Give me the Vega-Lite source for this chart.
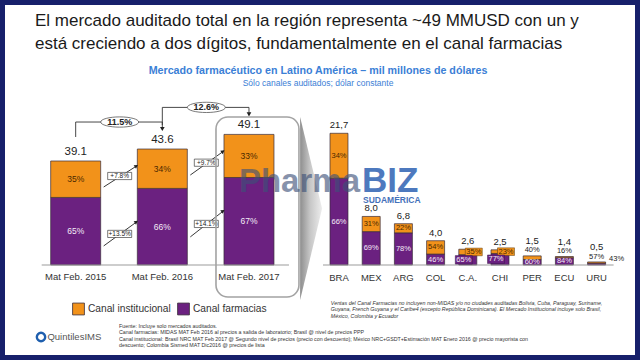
{
  "$schema": "https://vega.github.io/schema/vega-lite/v6.json",
  "background": "#17206b",
  "padding": 5,
  "title": {
    "text": ["El mercado auditado total en la región representa ~49 MMUSD con un y", "está creciendo a dos dígitos, fundamentalmente en el canal farmacias"],
    "anchor": "start", "dx": 30, "offset": -48, "fontSize": 17, "fontWeight": "normal",
    "color": "#1a1a1a", "font": "Liberation Sans", "lineHeight": 23, "baseline": "top"
  },
  "datasets": {
    "izq": [
      {"periodo": 2015, "canal": "Canal farmacias", "valor": 25.4, "pct": "65%"},
      {"periodo": 2015, "canal": "Canal institucional", "valor": 13.7, "pct": "35%"},
      {"periodo": 2016, "canal": "Canal farmacias", "valor": 28.8, "pct": "66%"},
      {"periodo": 2016, "canal": "Canal institucional", "valor": 14.8, "pct": "34%"},
      {"periodo": 2017, "canal": "Canal farmacias", "valor": 32.9, "pct": "67%"},
      {"periodo": 2017, "canal": "Canal institucional", "valor": 16.2, "pct": "33%"}
    ],
    "izqTot": [
      {"periodo": 2015, "nombre": "Mat Feb. 2015", "total": 39.1},
      {"periodo": 2016, "nombre": "Mat Feb. 2016", "total": 43.6},
      {"periodo": 2017, "nombre": "Mat Feb. 2017", "total": 49.1}
    ],
    "crecTotal": [
      {"desde": 2015, "hasta": 2016, "crec": "11.5%", "tot_desde": 39.1, "tot_hasta": 43.6},
      {"desde": 2016, "hasta": 2017, "crec": "12.6%", "tot_desde": 43.6, "tot_hasta": 49.1}
    ],
    "crecCanal": [
      {"desde": 2015, "hasta": 2016, "canal": "Canal institucional", "crec": "+7.8%", "base_desde": 39.1, "base_hasta": 43.6},
      {"desde": 2015, "hasta": 2016, "canal": "Canal farmacias", "crec": "+13.5%", "base_desde": 25.4, "base_hasta": 28.8},
      {"desde": 2016, "hasta": 2017, "canal": "Canal institucional", "crec": "+9.7%", "base_desde": 43.6, "base_hasta": 49.1},
      {"desde": 2016, "hasta": 2017, "canal": "Canal farmacias", "crec": "+14.1%", "base_desde": 28.8, "base_hasta": 32.9}
    ],
    "der": [
      {"pais": "BRA", "canal": "Canal farmacias", "valor": 14.3, "pct": "66%"},
      {"pais": "BRA", "canal": "Canal institucional", "valor": 7.4, "pct": "34%"},
      {"pais": "MEX", "canal": "Canal farmacias", "valor": 5.5, "pct": "69%"},
      {"pais": "MEX", "canal": "Canal institucional", "valor": 2.5, "pct": "31%"},
      {"pais": "ARG", "canal": "Canal farmacias", "valor": 5.3, "pct": "78%"},
      {"pais": "ARG", "canal": "Canal institucional", "valor": 1.5, "pct": "22%"},
      {"pais": "COL", "canal": "Canal farmacias", "valor": 1.8, "pct": "46%"},
      {"pais": "COL", "canal": "Canal institucional", "valor": 2.2, "pct": "54%"},
      {"pais": "C.A.", "canal": "Canal farmacias", "valor": 1.7, "pct": "65%"},
      {"pais": "C.A.", "canal": "Canal institucional", "valor": 0.9, "pct": "35%"},
      {"pais": "CHI", "canal": "Canal farmacias", "valor": 1.9, "pct": "77%"},
      {"pais": "CHI", "canal": "Canal institucional", "valor": 0.6, "pct": "23%"},
      {"pais": "PER", "canal": "Canal farmacias", "valor": 0.9, "pct": "60%"},
      {"pais": "PER", "canal": "Canal institucional", "valor": 0.6, "pct": "40%"},
      {"pais": "ECU", "canal": "Canal farmacias", "valor": 1.2, "pct": "84%"},
      {"pais": "ECU", "canal": "Canal institucional", "valor": 0.2, "pct": "16%"},
      {"pais": "URU", "canal": "Canal farmacias", "valor": 0.3, "pct": "57%"},
      {"pais": "URU", "canal": "Canal institucional", "valor": 0.2, "pct": "43%"}
    ],
    "derTot": [
      {"pais": "BRA", "total": 21.7, "etiqueta": "21,7"},
      {"pais": "MEX", "total": 8.0, "etiqueta": "8,0"},
      {"pais": "ARG", "total": 6.8, "etiqueta": "6,8"},
      {"pais": "COL", "total": 4.0, "etiqueta": "4,0"},
      {"pais": "C.A.", "total": 2.6, "etiqueta": "2,6"},
      {"pais": "CHI", "total": 2.5, "etiqueta": "2,5"},
      {"pais": "PER", "total": 1.5, "etiqueta": "1,5"},
      {"pais": "ECU", "total": 1.4, "etiqueta": "1,4"},
      {"pais": "URU", "total": 0.5, "etiqueta": "0,5"}
    ]
  },
  "vconcat": [
    {
      "width": 630,
      "height": 350,
      "title": {
        "text": "Mercado farmacéutico en Latino América – mil millones de dólares",
        "subtitle": "Sólo canales auditados; dólar constante",
        "anchor": "middle", "dx": -2, "offset": -83, "baseline": "top",
        "color": "#3b80d6", "subtitleColor": "#3b80d6",
        "fontSize": 10.7, "fontWeight": "bold", "font": "Liberation Sans",
        "subtitleFontSize": 8.5, "subtitleFont": "Liberation Sans", "subtitlePadding": 2
      },
      "resolve": {"scale": {"x": "independent", "y": "independent"}},
      "layer": [
        {
          "layer": [
            {
              "data": {"values": [{}]},
              "mark": {"type": "point", "shape": "M-0.12,-1L0.12,0L-0.12,1Z", "filled": true, "opacity": 1, "size": 33489,
                "fill": {"gradient": "linear", "x1": 0, "y1": 0, "x2": 1, "y2": 0, "stops": [{"offset": 0, "color": "#8e8e8e"}, {"offset": 0.45, "color": "#c6c6c6"}, {"offset": 1, "color": "#ededed"}]}},
              "encoding": {
                "x": {"datum": 2017.717, "type": "quantitative", "scale": {"domain": [2014.2421, 2021.3971], "nice": false, "zero": false}, "axis": null},
                "y": {"datum": 21.24, "type": "quantitative", "scale": {"domain": [-33.835, 97.744], "nice": false, "zero": false}, "axis": null}
              }
            },
            {
              "data": {"name": "izq"},
              "mark": {"type": "bar", "width": 50, "stroke": "#3a2d3a", "strokeWidth": 0.7},
              "encoding": {
                "x": {"field": "periodo", "type": "quantitative", "axis": null},
                "y": {"field": "valor", "type": "quantitative", "stack": "zero", "axis": null},
                "color": {
                  "field": "canal", "type": "nominal",
                  "scale": {"domain": ["Canal institucional", "Canal farmacias"], "range": ["#F2921A", "#6B2180"]},
                  "legend": {"orient": "none", "legendX": 67, "legendY": 297, "direction": "horizontal", "title": null,
                    "symbolType": "square", "symbolSize": 140, "labelFontSize": 10.2, "labelColor": "#333333",
                    "labelFont": "Liberation Sans", "columnPadding": 4, "symbolStrokeColor": "#444444", "symbolStrokeWidth": 0.8, "labelOffset": 3}
                },
                "order": {"field": "canal", "type": "nominal", "sort": "ascending"}
              }
            },
            {
              "data": {"name": "izqTot"},
              "mark": {"type": "rule", "color": "#9c9c9c", "strokeWidth": 1.2, "xOffset": -34, "x2Offset": 40},
              "encoding": {
                "x": {"aggregate": "min", "field": "periodo", "type": "quantitative", "axis": null},
                "x2": {"aggregate": "max", "field": "periodo"},
                "y": {"datum": 0, "type": "quantitative", "axis": null}
              }
            },
            {
              "data": {"name": "izqTot"},
              "mark": {"type": "text", "fontSize": 11.5, "color": "#222222", "baseline": "middle", "dy": -9},
              "encoding": {
                "x": {"field": "periodo", "type": "quantitative", "axis": null},
                "y": {"field": "total", "type": "quantitative", "axis": null},
                "text": {"field": "total", "type": "quantitative", "format": ".1f"}
              }
            },
            {
              "data": {"name": "izqTot"},
              "mark": {"type": "text", "fontSize": 9.5, "color": "#333333", "baseline": "middle", "dy": 12},
              "encoding": {
                "x": {"field": "periodo", "type": "quantitative", "axis": null},
                "y": {"datum": 0, "type": "quantitative", "axis": null},
                "text": {"field": "nombre", "type": "nominal"}
              }
            },
            {
              "data": {"name": "izq"},
              "transform": [
                {"stack": "valor", "groupby": ["periodo"], "sort": [{"field": "canal", "order": "ascending"}], "as": ["v0", "v1"]},
                {"fold": ["v0", "v1"], "as": ["extremo", "pos"]}
              ],
              "mark": {"type": "text", "fontSize": 8.5, "baseline": "middle"},
              "encoding": {
                "x": {"field": "periodo", "type": "quantitative", "axis": null},
                "y": {"aggregate": "mean", "field": "pos", "type": "quantitative", "axis": null},
                "detail": {"field": "canal"},
                "text": {"field": "pct", "type": "nominal"},
                "color": {"condition": {"test": "datum.canal === 'Canal farmacias'", "value": "#f4ecf7"}, "value": "#4a2800"}
              }
            },
            {
              "data": {"name": "crecTotal"},
              "mark": {"type": "rule", "color": "#333333", "strokeWidth": 0.9, "yOffset": -24, "y2Offset": -27},
              "encoding": {
                "x": {"field": "desde", "type": "quantitative", "axis": null},
                "y": {"field": "tot_desde", "type": "quantitative", "axis": null},
                "y2": {"field": "tot_hasta"}
              }
            },
            {
              "data": {"name": "crecTotal"},
              "mark": {"type": "rule", "color": "#333333", "strokeWidth": 0.9, "yOffset": -27},
              "encoding": {
                "x": {"field": "desde", "type": "quantitative", "axis": null},
                "x2": {"field": "hasta"},
                "y": {"field": "tot_hasta", "type": "quantitative", "axis": null}
              }
            },
            {
              "data": {"name": "crecTotal"},
              "mark": {"type": "rule", "color": "#333333", "strokeWidth": 0.9, "yOffset": -27, "y2Offset": -21},
              "encoding": {
                "x": {"field": "hasta", "type": "quantitative", "axis": null},
                "y": {"field": "tot_hasta", "type": "quantitative", "axis": null},
                "y2": {"field": "tot_hasta"}
              }
            },
            {
              "data": {"name": "crecTotal"},
              "mark": {"type": "point", "shape": "triangle-down", "filled": true, "size": 22, "color": "#222222", "opacity": 1, "yOffset": -20},
              "encoding": {
                "x": {"field": "hasta", "type": "quantitative", "axis": null},
                "y": {"field": "tot_hasta", "type": "quantitative", "axis": null}
              }
            },
            {
              "data": {"name": "crecTotal"},
              "mark": {"type": "point", "shape": "M-1,0A1,0.27,0,1,0,1,0A1,0.27,0,1,0,-1,0Z", "filled": true, "fill": "#ffffff", "stroke": "#555555", "strokeWidth": 0.8, "opacity": 1, "size": 1444, "xOffset": 44, "yOffset": -27},
              "encoding": {
                "x": {"field": "desde", "type": "quantitative", "axis": null},
                "y": {"field": "tot_hasta", "type": "quantitative", "axis": null}
              }
            },
            {
              "data": {"name": "crecTotal"},
              "mark": {"type": "text", "fontSize": 9, "fontWeight": "bold", "color": "#222222", "baseline": "middle", "xOffset": 44, "yOffset": -27},
              "encoding": {
                "x": {"field": "desde", "type": "quantitative", "axis": null},
                "y": {"field": "tot_hasta", "type": "quantitative", "axis": null},
                "text": {"field": "crec", "type": "nominal"}
              }
            },
            {
              "data": {"name": "crecCanal"},
              "transform": [{"filter": "datum.canal === 'Canal institucional'"}],
              "mark": {"type": "rule", "color": "#222222", "strokeWidth": 0.9, "xOffset": 28, "x2Offset": -25, "yOffset": 26, "y2Offset": 16.5},
              "encoding": {
                "x": {"field": "desde", "type": "quantitative", "axis": null},
                "x2": {"field": "hasta"},
                "y": {"field": "base_desde", "type": "quantitative", "axis": null},
                "y2": {"field": "base_hasta"}
              }
            },
            {
              "data": {"name": "crecCanal"},
              "transform": [{"filter": "datum.canal === 'Canal farmacias'"}],
              "mark": {"type": "rule", "color": "#222222", "strokeWidth": 0.9, "xOffset": 28, "x2Offset": -25, "yOffset": 48.5, "y2Offset": 33},
              "encoding": {
                "x": {"field": "desde", "type": "quantitative", "axis": null},
                "x2": {"field": "hasta"},
                "y": {"field": "base_desde", "type": "quantitative", "axis": null},
                "y2": {"field": "base_hasta"}
              }
            },
            {
              "data": {"name": "crecCanal"},
              "transform": [{"filter": "datum.canal === 'Canal institucional'"}],
              "mark": {"type": "point", "shape": "triangle-right", "angle": -35, "filled": true, "size": 18, "color": "#222222", "opacity": 1, "xOffset": -26, "yOffset": 17},
              "encoding": {
                "x": {"field": "hasta", "type": "quantitative", "axis": null},
                "y": {"field": "base_hasta", "type": "quantitative", "axis": null}
              }
            },
            {
              "data": {"name": "crecCanal"},
              "transform": [{"filter": "datum.canal === 'Canal farmacias'"}],
              "mark": {"type": "point", "shape": "triangle-right", "angle": -35, "filled": true, "size": 18, "color": "#222222", "opacity": 1, "xOffset": -26, "yOffset": 33.5},
              "encoding": {
                "x": {"field": "hasta", "type": "quantitative", "axis": null},
                "y": {"field": "base_hasta", "type": "quantitative", "axis": null}
              }
            },
            {
              "data": {"name": "crecCanal"},
              "transform": [{"filter": "datum.canal === 'Canal institucional'"}, {"fold": ["base_desde", "base_hasta"], "as": ["extremo", "nivel"]}],
              "layer": [
                {
                  "mark": {"type": "point", "shape": "M-1,-0.3H1V0.3H-1Z", "filled": true, "fill": "#ffffff", "stroke": "#222222", "strokeWidth": 0.6, "opacity": 1, "size": 576, "xOffset": 44, "yOffset": 21}
                },
                {
                  "mark": {"type": "text", "fontSize": 6.5, "color": "#222222", "baseline": "middle", "xOffset": 44, "yOffset": 21},
                  "encoding": {"text": {"field": "crec", "type": "nominal"}}
                }
              ],
              "encoding": {
                "x": {"field": "desde", "type": "quantitative", "axis": null},
                "y": {"aggregate": "mean", "field": "nivel", "type": "quantitative", "axis": null},
                "detail": {"field": "crec"}
              }
            },
            {
              "data": {"name": "crecCanal"},
              "transform": [{"filter": "datum.canal === 'Canal farmacias'"}, {"fold": ["base_desde", "base_hasta"], "as": ["extremo", "nivel"]}],
              "layer": [
                {
                  "mark": {"type": "point", "shape": "M-1,-0.3H1V0.3H-1Z", "filled": true, "fill": "#ffffff", "stroke": "#222222", "strokeWidth": 0.6, "opacity": 1, "size": 576, "xOffset": 44, "yOffset": 41}
                },
                {
                  "mark": {"type": "text", "fontSize": 6.5, "color": "#222222", "baseline": "middle", "xOffset": 44, "yOffset": 41},
                  "encoding": {"text": {"field": "crec", "type": "nominal"}}
                }
              ],
              "encoding": {
                "x": {"field": "desde", "type": "quantitative", "axis": null},
                "y": {"aggregate": "mean", "field": "nivel", "type": "quantitative", "axis": null},
                "detail": {"field": "crec"}
              }
            },
            {
              "data": {"values": [{}]},
              "mark": {"type": "point", "shape": "M-0.328,-1H0.328A0.133,0.133,0,0,1,0.461,-0.867V0.867A0.133,0.133,0,0,1,0.328,1H-0.328A0.133,0.133,0,0,1,-0.461,0.867V-0.867A0.133,0.133,0,0,1,-0.328,-1Z", "filled": false, "stroke": "#a3a3a3", "strokeWidth": 1.6, "opacity": 1, "size": 32400},
              "encoding": {
                "x": {"datum": 2017.098, "type": "quantitative", "axis": null},
                "y": {"datum": 21.8, "type": "quantitative", "axis": null}
              }
            },
            {
              "data": {"values": [{}]},
              "mark": {"type": "text", "align": "left", "baseline": "top", "fontSize": 5.3, "color": "#333333", "lineHeight": 6.4,
                "text": ["Fuente: Incluye solo mercados auditados.",
                  "Canal farmacias: MIDAS MAT Feb 2016 al precios a salida de laboratorio; Brasil @ nivel de precios PPP",
                  "Canal institucional: Brasil NRC MAT Feb 2017 @ Segundo nivel de precios (precio con descuento); México NRC+GSDT+Estimación MAT Enero 2016 @ precio mayorista con",
                  "descuento; Colombia Sismed MAT Dic2016 @ precios de lista"]},
              "encoding": {
                "x": {"datum": 2015.5, "type": "quantitative", "axis": null},
                "y": {"datum": -22.2, "type": "quantitative", "axis": null}
              }
            },
            {
              "data": {"values": [{}]},
              "mark": {"type": "text", "align": "left", "baseline": "top", "fontSize": 5.3, "fontStyle": "italic", "color": "#333333", "lineHeight": 6.4,
                "text": ["Ventas del Canal Farmacias no incluyen non-MIDAS y/o no ciudades auditadas Bolivia, Cuba, Paraguay, Suriname,",
                  "Guyana, French Guyana y el Caribe4 (excepto República Dominicana). El Mercado Institucional incluye solo Brasil,",
                  "México, Colombia y Ecuador"]},
              "encoding": {
                "x": {"datum": 2017.945, "type": "quantitative", "axis": null},
                "y": {"datum": -13.5, "type": "quantitative", "axis": null}
              }
            },
            {
              "data": {"values": [{}]},
              "mark": {"type": "point", "shape": "circle", "filled": false, "stroke": "#1f5fae", "strokeWidth": 2.4, "opacity": 1, "size": 70},
              "encoding": {
                "x": {"datum": 2014.6, "type": "quantitative", "axis": null},
                "y": {"datum": -27.07, "type": "quantitative", "axis": null}
              }
            },
            {
              "data": {"values": [{}]},
              "mark": {"type": "text", "align": "left", "baseline": "middle", "fontSize": 9.5, "color": "#555555", "text": "QuintilesIMS"},
              "encoding": {
                "x": {"datum": 2014.674, "type": "quantitative", "axis": null},
                "y": {"datum": -27.07, "type": "quantitative", "axis": null}
              }
            }
          ]
        },
        {
          "layer": [
            {
              "data": {"name": "der"},
              "mark": {"type": "bar", "stroke": "#3a2d3a", "strokeWidth": 0.7},
              "encoding": {
                "x": {"field": "pais", "type": "nominal", "sort": null,
                  "scale": {"type": "band", "domain": ["BRA", "MEX", "ARG", "COL", "C.A.", "CHI", "PER", "ECU", "URU"], "range": [308.9, 616.7], "paddingInner": 0.441, "paddingOuter": 0.5, "align": 0.5},
                  "axis": null},
                "y": {"field": "valor", "type": "quantitative", "stack": "zero", "scale": {"domain": [-14.827, 42.834], "nice": false, "zero": false}, "axis": null},
                "color": {"field": "canal", "type": "nominal"},
                "order": {"field": "canal", "type": "nominal", "sort": "ascending"}
              }
            },
            {
              "data": {"values": [{}]},
              "mark": {"type": "rule", "color": "#9c9c9c", "strokeWidth": 1.2, "xOffset": -16, "x2Offset": 17},
              "encoding": {
                "x": {"datum": "BRA", "type": "nominal", "axis": null},
                "x2": {"datum": "URU"},
                "y": {"datum": 0, "type": "quantitative", "axis": null}
              }
            },
            {
              "data": {"name": "derTot"},
              "transform": [{"filter": "indexof(['PER','ECU','URU'], datum.pais) < 0"}],
              "mark": {"type": "text", "fontSize": 9.5, "color": "#222222", "baseline": "middle", "dy": -8},
              "encoding": {
                "x": {"field": "pais", "type": "nominal", "axis": null},
                "y": {"field": "total", "type": "quantitative", "axis": null},
                "text": {"field": "etiqueta", "type": "nominal"}
              }
            },
            {
              "data": {"name": "derTot"},
              "transform": [{"filter": "indexof(['PER','ECU','URU'], datum.pais) >= 0"}],
              "mark": {"type": "text", "fontSize": 9.5, "color": "#222222", "baseline": "middle", "dy": -15},
              "encoding": {
                "x": {"field": "pais", "type": "nominal", "axis": null},
                "y": {"field": "total", "type": "quantitative", "axis": null},
                "text": {"field": "etiqueta", "type": "nominal"}
              }
            },
            {
              "data": {"name": "derTot"},
              "mark": {"type": "text", "fontSize": 9.5, "color": "#333333", "baseline": "middle", "dy": 13},
              "encoding": {
                "x": {"field": "pais", "type": "nominal", "axis": null},
                "y": {"datum": 0, "type": "quantitative", "axis": null},
                "text": {"field": "pais", "type": "nominal"}
              }
            },
            {
              "data": {"name": "der"},
              "transform": [
                {"stack": "valor", "groupby": ["pais"], "sort": [{"field": "canal", "order": "ascending"}], "as": ["v0", "v1"]},
                {"filter": "indexof(['BRA','MEX','ARG','COL'], datum.pais) >= 0 || (indexof(['PER','ECU'], datum.pais) >= 0 && datum.canal === 'Canal farmacias')"},
                {"fold": ["v0", "v1"], "as": ["extremo", "pos"]}
              ],
              "mark": {"type": "text", "fontSize": 7.5, "baseline": "middle"},
              "encoding": {
                "x": {"field": "pais", "type": "nominal", "axis": null},
                "y": {"aggregate": "mean", "field": "pos", "type": "quantitative", "axis": null},
                "detail": {"field": "canal"},
                "text": {"field": "pct", "type": "nominal"},
                "color": {"condition": {"test": "datum.canal === 'Canal farmacias'", "value": "#f4ecf7"}, "value": "#4a2800"}
              }
            },
            {
              "data": {"name": "der"},
              "transform": [
                {"stack": "valor", "groupby": ["pais"], "sort": [{"field": "canal", "order": "ascending"}], "as": ["v0", "v1"]},
                {"filter": "(datum.pais === 'C.A.' || datum.pais === 'CHI') && datum.canal === 'Canal institucional'"},
                {"fold": ["v0", "v1"], "as": ["extremo", "pos"]}
              ],
              "layer": [
                {
                  "mark": {"type": "point", "shape": "M-1,-0.45H1V0.45H-1Z", "filled": true, "opacity": 1, "size": 289, "stroke": "#5a3a10", "strokeWidth": 0.5, "xOffset": 6},
                  "encoding": {"color": {"field": "canal", "type": "nominal"}}
                },
                {
                  "mark": {"type": "text", "fontSize": 7.5, "baseline": "middle", "color": "#4a2800", "xOffset": 6},
                  "encoding": {"text": {"field": "pct", "type": "nominal"}}
                }
              ],
              "encoding": {
                "x": {"field": "pais", "type": "nominal", "axis": null},
                "y": {"aggregate": "mean", "field": "pos", "type": "quantitative", "axis": null},
                "detail": {"field": "pct"}
              }
            },
            {
              "data": {"name": "der"},
              "transform": [
                {"stack": "valor", "groupby": ["pais"], "sort": [{"field": "canal", "order": "ascending"}], "as": ["v0", "v1"]},
                {"filter": "(datum.pais === 'C.A.' || datum.pais === 'CHI') && datum.canal === 'Canal farmacias'"},
                {"fold": ["v0", "v1"], "as": ["extremo", "pos"]}
              ],
              "layer": [
                {
                  "mark": {"type": "point", "shape": "M-1,-0.5H1V0.5H-1Z", "filled": true, "opacity": 1, "size": 289, "stroke": "#3a1a4a", "strokeWidth": 0.5, "xOffset": -4},
                  "encoding": {"color": {"field": "canal", "type": "nominal"}}
                },
                {
                  "mark": {"type": "text", "fontSize": 7.5, "baseline": "middle", "color": "#f4ecf7", "xOffset": -4},
                  "encoding": {"text": {"field": "pct", "type": "nominal"}}
                }
              ],
              "encoding": {
                "x": {"field": "pais", "type": "nominal", "axis": null},
                "y": {"aggregate": "mean", "field": "pos", "type": "quantitative", "axis": null},
                "detail": {"field": "pct"}
              }
            },
            {
              "data": {"name": "der"},
              "transform": [
                {"stack": "valor", "groupby": ["pais"], "sort": [{"field": "canal", "order": "ascending"}], "as": ["v0", "v1"]},
                {"filter": "(datum.pais === 'PER' || datum.pais === 'ECU') && datum.canal === 'Canal institucional'"}
              ],
              "mark": {"type": "text", "fontSize": 7.5, "baseline": "middle", "color": "#222222", "dy": -6},
              "encoding": {
                "x": {"field": "pais", "type": "nominal", "axis": null},
                "y": {"field": "v1", "type": "quantitative", "axis": null},
                "text": {"field": "pct", "type": "nominal"}
              }
            },
            {
              "data": {"name": "der"},
              "transform": [
                {"stack": "valor", "groupby": ["pais"], "sort": [{"field": "canal", "order": "ascending"}], "as": ["v0", "v1"]},
                {"filter": "datum.pais === 'URU' && datum.canal === 'Canal farmacias'"}
              ],
              "mark": {"type": "text", "fontSize": 7.5, "baseline": "middle", "color": "#222222", "dy": -6},
              "encoding": {
                "x": {"field": "pais", "type": "nominal", "axis": null},
                "y": {"field": "v1", "type": "quantitative", "axis": null},
                "text": {"field": "pct", "type": "nominal"}
              }
            },
            {
              "data": {"name": "der"},
              "transform": [
                {"stack": "valor", "groupby": ["pais"], "sort": [{"field": "canal", "order": "ascending"}], "as": ["v0", "v1"]},
                {"filter": "datum.pais === 'URU' && datum.canal === 'Canal institucional'"}
              ],
              "mark": {"type": "text", "fontSize": 7.5, "baseline": "middle", "color": "#222222", "dy": -3, "xOffset": 20},
              "encoding": {
                "x": {"field": "pais", "type": "nominal", "axis": null},
                "y": {"field": "v1", "type": "quantitative", "axis": null},
                "text": {"field": "pct", "type": "nominal"}
              }
            }
          ]
        },
        {
          "data": {"values": [{}]},
          "layer": [
            {
              "mark": {"type": "text", "align": "right", "baseline": "alphabetic", "fontSize": 33, "fontWeight": "bold", "color": "#3d5178", "opacity": 0.62, "text": "Pharma"},
              "encoding": {
                "x": {"datum": 2018.246, "type": "quantitative", "scale": {"domain": [2014.2141, 2021.3691], "nice": false, "zero": false}, "axis": null},
                "y": {"datum": 27.44, "type": "quantitative", "scale": {"domain": [-33.835, 97.744], "nice": false, "zero": false}, "axis": null}
              }
            },
            {
              "mark": {"type": "text", "align": "left", "baseline": "alphabetic", "fontSize": 35, "fontWeight": "bold", "color": "#2f62b3", "opacity": 0.85, "text": "BIZ"},
              "encoding": {
                "x": {"datum": 2018.269, "type": "quantitative", "axis": null},
                "y": {"datum": 27.44, "type": "quantitative", "axis": null}
              }
            },
            {
              "mark": {"type": "text", "align": "left", "baseline": "middle", "fontSize": 8.5, "fontWeight": "bold", "color": "#2f62b3", "opacity": 0.9, "text": "SUDAMÉRICA"},
              "encoding": {
                "x": {"datum": 2018.28, "type": "quantitative", "axis": null},
                "y": {"datum": 24.4, "type": "quantitative", "axis": null}
              }
            }
          ]
        }
      ]
    }
  ],
  "config": {
    "view": {"fill": "white", "stroke": null},
    "font": "Liberation Sans",
    "text": {"font": "Liberation Sans"}
  }
}
